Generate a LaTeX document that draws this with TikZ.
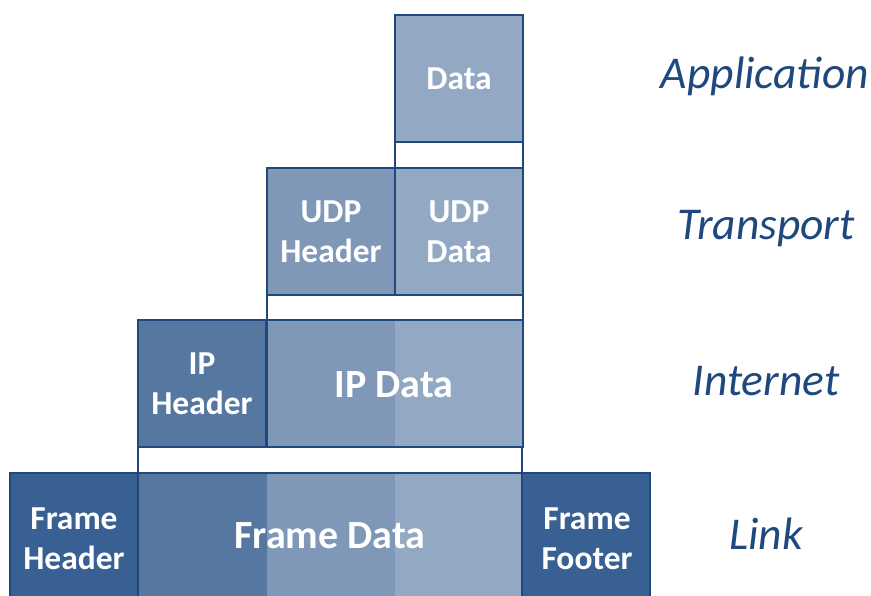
\documentclass[tikz,border=0pt]{standalone}
\usepackage{fontspec}
\setmainfont{Carlito}
\begin{document}
\begin{tikzpicture}[x=1pt,y=-1pt,
  edge/.style={draw=linecol,line width=1.6pt},
  cell/.style={edge,anchor=north west,inner sep=0pt,outer sep=0pt,minimum width=128pt,minimum height=127pt},
  gap/.style={edge,fill=white,anchor=north west,inner sep=0pt,outer sep=0pt,minimum height=26pt},
  shade/.style={anchor=north west,inner sep=0pt,outer sep=0pt},
  txt/.style={text=white,font=\bfseries\fontsize{33.5}{40}\selectfont,align=center},
  bigtxt/.style={text=white,font=\bfseries\fontsize{40}{46}\selectfont},
  layer/.style={text=linecol,font=\itshape\fontsize{45.5}{52}\selectfont}]
\definecolor{linecol}{HTML}{1F497D}
\definecolor{c1}{HTML}{93A9C3}
\definecolor{c2}{HTML}{7F98B8}
\definecolor{c3}{HTML}{5577A0}
\definecolor{c4}{HTML}{386092}
\useasboundingbox (0,0) rectangle (871,596);
\clip (0,0) rectangle (871,596);

% Application layer
\node[cell,fill=c1] (app) at (395,15) {};
\node[txt] (appt) at (app.center) {Data};
\node[gap,minimum width=128pt] (g1) at (395,142) {};

% Transport layer
\node[cell,fill=c2] (udph) at (267,168) {};
\node[cell,fill=c1] (udpd) at (395,168) {};
\node[txt] (udpht) at (udph.center) {UDP\\Header};
\node[txt] (udpdt) at (udpd.center) {UDP\\Data};
\node[gap,minimum width=256pt] (g2) at (267,295) {};

% Internet layer: shaded bands laid back to front so they overlap
\node[cell,fill=c3] (iph) at (138,320) {};
\node[shade,fill=c2,minimum width=256pt,minimum height=127pt] (ipd1) at (267,320) {};
\node[shade,fill=c1,minimum width=128pt,minimum height=127pt] (ipd2) at (395,320) {};
\node[cell,minimum width=256pt] (ipd) at (267,320) {};
\node[txt] (ipht) at (iph.center) {IP\\Header};
\node[bigtxt] (ipdt) at (394,385) {IP Data};
\node[gap,minimum width=384pt] (g3) at (138,447) {};

% Link layer
\node[cell,fill=c4,minimum height=135pt] (fh) at (10,473) {};
\node[shade,fill=c3,minimum width=384pt,minimum height=135pt] (fd1) at (138,473) {};
\node[shade,fill=c2,minimum width=256pt,minimum height=135pt] (fd2) at (267,473) {};
\node[shade,fill=c1,minimum width=128pt,minimum height=135pt] (fd3) at (395,473) {};
\node[cell,minimum width=384pt,minimum height=135pt] (fd) at (138,473) {};
\node[cell,fill=c4,minimum height=135pt] (ff) at (522,473) {};
\node[txt] (fht) at (74,539) {Frame\\Header};
\node[txt] (fft) at (587,539) {Frame\\Footer};
\node[bigtxt] (fdt) at (330,536) {Frame Data};

% Layer names
\node[layer] (l1) at (765,76) {Application};
\node[layer] (l2) at (766,229) {Transport};
\node[layer] (l3) at (766,381) {Internet};
\node[layer] (l4) at (766,534) {Link};
\end{tikzpicture}
\end{document}
